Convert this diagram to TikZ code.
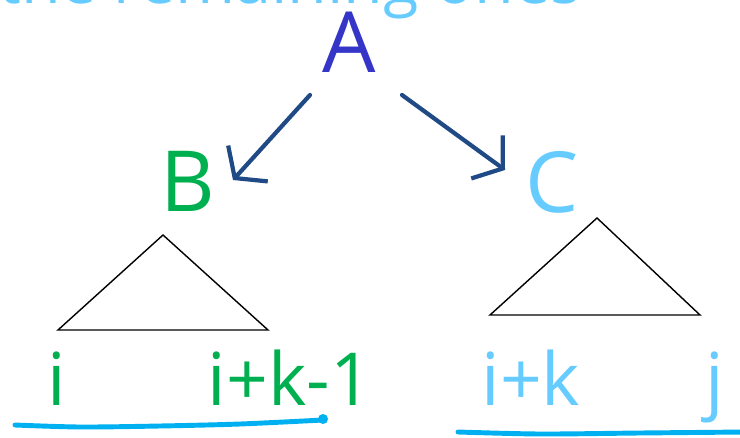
\documentclass[tikz,border=0pt]{standalone}
\usepackage{fontspec}
\setmainfont{Open Sans}
\usetikzlibrary{arrows.meta}
\definecolor{rootBlue}{HTML}{3535C8}
\definecolor{leftGreen}{HTML}{00B050}
\definecolor{rightBlue}{HTML}{66CCFF}
\definecolor{lineBlue}{HTML}{00B0F0}
\definecolor{arrowBlue}{HTML}{1F4A85}

\begin{document}
\begin{tikzpicture}[x=0.025cm, y=-0.025cm,
  letter/.style={inner sep=0pt, font=\fontsize{60}{62}\selectfont},
  bound/.style={inner sep=0pt, anchor=base, font=\fontsize{52}{56}\selectfont},
  edge/.style={arrowBlue, line width=3pt, line cap=round, line join=round,
    -{Straight Barb[length=14pt, width=38pt, line width=3pt]}},
  subtree/.style={line width=1pt},
  scribble/.style={lineBlue, line width=3.5pt, line cap=round}]
  \useasboundingbox (0,0) rectangle (740,438);
  \clip (0,0) rectangle (740,438);
  % heading, cut off at the top
  \node[anchor=base east, inner sep=0pt, text=rightBlue,
    font=\fontsize{46}{48}\selectfont] (heading) at (582,4) {the remaining ones};
  % root and children
  \node[letter, text=rootBlue] (A) at (349,42) {A};
  \node[letter, text=leftGreen] (B) at (188,181) {B};
  \node[letter, text=rightBlue] (C) at (552,182) {C};
  \draw[edge] ([shift={(-39,53)}]A.center) -- ([shift={(45,-1)}]B.center);
  \draw[edge] ([shift={(53,53)}]A.center) -- ([shift={(-47,-12)}]C.center);
  % subtrees
  \draw[subtree] (163,235) -- (58,330) -- (268,330) -- cycle;
  \draw[subtree] (597,218) -- (490,315) -- (700,315) -- cycle;
  % index bounds
  \node[bound, text=leftGreen] (lo) at (57,405) {i};
  \node[bound, text=leftGreen] (mid) at (290,405) {i+k-1};
  \node[bound, text=rightBlue] (next) at (531,405) {i+k};
  \node[bound, text=rightBlue] (hi) at (715,405) {j};
  % underlines
  \draw[scribble] plot[smooth] coordinates {(15,425) (80,427) (160,426) (240,424) (323,420)};
  \fill[lineBlue] (323,419) circle (5);
  \draw[scribble] plot[smooth] coordinates {(458,432) (540,434) (640,433) (745,432)};
\end{tikzpicture}
\end{document}
